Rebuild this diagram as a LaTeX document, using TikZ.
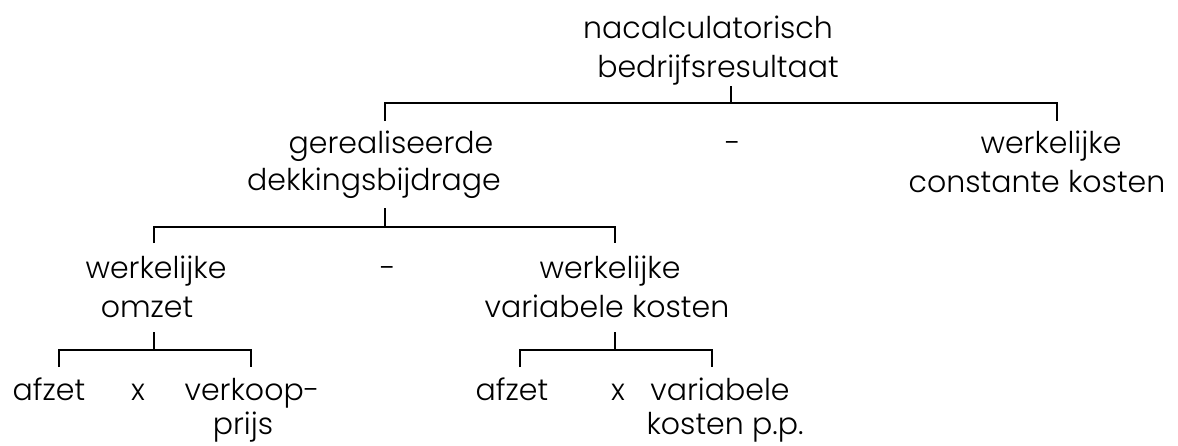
\documentclass[tikz,border=0pt]{standalone}
\usepackage{fontspec}
\setmainfont{Poppins}[UprightFont=* Light]
\begin{document}
\begin{tikzpicture}[x=1pt,y=-1pt,
  lbl/.style={inner sep=0pt,anchor=base,font=\fontsize{30}{39}\selectfont},
  ln/.style={line width=2.8pt,black}]
\useasboundingbox (0,0) rectangle (1178,445);
% level 1
\node[lbl] (top1) at (708,38) {nacalculatorisch};
\node[lbl] (top2) at (718,77) {bedrijfsresultaat};
% level 2
\node[lbl] (gd1) at (391,153) {gerealiseerde};
\node[lbl] (gd2) at (374,190) {dekkingsbijdrage};
\node[lbl] (min1) at (733,153) {-};
\node[lbl] (wc1) at (1051,153) {werkelijke};
\node[lbl] (wc2) at (1037,192) {constante kosten};
% level 3
\node[lbl] (wo1) at (156,278) {werkelijke};
\node[lbl] (wo2) at (147,317) {omzet};
\node[lbl] (min2) at (388,278) {-};
\node[lbl] (wv1) at (610,278) {werkelijke};
\node[lbl] (wv2) at (607,317) {variabele kosten};
% level 4 left
\node[lbl] (af1) at (49,400) {afzet};
\node[lbl] (x1) at (138,400) {x};
\node[lbl] (vp1) at (252,400) {verkoop-};
\node[lbl] (vp2) at (243,434) {prijs};
% level 4 right
\node[lbl] (af2) at (512,400) {afzet};
\node[lbl] (x2) at (618,400) {x};
\node[lbl] (vk1) at (720,400) {variabele};
\node[lbl] (vk2) at (725,434) {kosten p.p.};
% bracket coordinates
\coordinate (s1) at (731,86);   \coordinate (b1) at (731,103);
\coordinate (t1l) at (385,121); \coordinate (t1r) at (1057,121);
\coordinate (s2) at (385,208);  \coordinate (b2) at (385,227);
\coordinate (t2l) at (154,243); \coordinate (t2r) at (615,243);
\coordinate (s3) at (154,332);  \coordinate (b3) at (154,350);
\coordinate (t3l) at (59,367);  \coordinate (t3r) at (251,367);
\coordinate (s4) at (615,332);  \coordinate (b4) at (615,350);
\coordinate (t4l) at (520,367); \coordinate (t4r) at (712,367);
% connectors
\draw[ln] (s1) -- (b1);
\draw[ln] (t1l) |- (b1) -| (t1r);
\draw[ln] (s2) -- (b2);
\draw[ln] (t2l) |- (b2) -| (t2r);
\draw[ln] (s3) -- (b3);
\draw[ln] (t3l) |- (b3) -| (t3r);
\draw[ln] (s4) -- (b4);
\draw[ln] (t4l) |- (b4) -| (t4r);
\end{tikzpicture}
\end{document}
